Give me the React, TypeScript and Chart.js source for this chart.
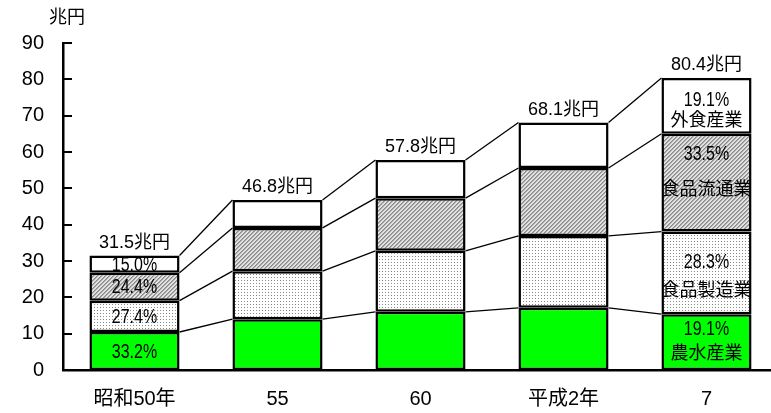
import React, { useEffect, useRef } from "react";
import { Chart, registerables } from "chart.js";

Chart.register(...registerables);

const categories = ["昭和50年", "55", "60", "平成2年", "7"];
const agri = [10.46, 14.0, 16.0, 17.1, 15.36];
const manufacturing = [8.63, 13.2, 16.8, 19.8, 22.75];
const distribution = [7.69, 11.9, 14.5, 18.7, 26.93];
const foodService = [4.72, 7.7, 10.5, 12.5, 15.36];
const totalLabels = ["31.5兆円", "46.8兆円", "57.8兆円", "68.1兆円", "80.4兆円"];
const firstBarPct = ["33.2%", "27.4%", "24.4%", "15.0%"];
const lastBarPct = ["19.1%", "28.3%", "33.5%", "19.1%"];
const sectorNames = ["農水産業", "食品製造業", "食品流通業", "外食産業"];
const yTicks = [0, 10, 20, 30, 40, 50, 60, 70, 80, 90];
const unitLabel = "兆円";

const LATIN = '"Liberation Sans", Arial, "Noto Sans CJK JP", sans-serif';
const CJK = '"Noto Sans CJK JP", sans-serif';

// vertical offsets (px, relative to segment centre) for labels in the last bar
const lastPctOffset = [-13, -10, -28, -5];
const lastNameOffset = [10, 16, 6, 13];

function makeDots(): CanvasPattern | string {
  const c = document.createElement("canvas");
  c.width = 3;
  c.height = 3;
  const x = c.getContext("2d")!;
  x.fillStyle = "#ffffff";
  x.fillRect(0, 0, 3, 3);
  x.fillStyle = "#8a8a8a";
  x.fillRect(1, 1, 1, 1);
  return x.createPattern(c, "repeat") || "#eee";
}

function makeHatch(): CanvasPattern | string {
  const n = 4;
  const c = document.createElement("canvas");
  c.width = n;
  c.height = n;
  const x = c.getContext("2d")!;
  x.fillStyle = "#e2e2e2";
  x.fillRect(0, 0, n, n);
  for (let i = 0; i < n; i++) {
    for (let j = 0; j < n; j++) {
      const k = (i + j) % n;
      if (k === 0) {
        x.fillStyle = "#8a8a8a";
        x.fillRect(i, j, 1, 1);
      } else if (k === 1) {
        x.fillStyle = "#a8a8a8";
        x.fillRect(i, j, 1, 1);
      }
    }
  }
  return x.createPattern(c, "repeat") || "#bbb";
}

function narrowText(ctx: CanvasRenderingContext2D, text: string, x: number, y: number) {
  ctx.save();
  ctx.translate(x, y);
  ctx.scale(0.8, 1);
  ctx.fillText(text, 0, 0);
  ctx.restore();
}

export default function App() {
  const ref = useRef<HTMLCanvasElement>(null);

  useEffect(() => {
    if (!ref.current) return;
    const series = [agri, manufacturing, distribution, foodService];

    const overlay = {
      id: "overlay",
      afterDatasetsDraw(chart: any) {
        const ctx = chart.ctx as CanvasRenderingContext2D;
        const ys = chart.scales.y;
        const area = chart.chartArea;
        ctx.save();
        // inner ticks on y axis
        ctx.strokeStyle = "#000";
        ctx.lineWidth = 2;
        yTicks.forEach((v) => {
          const py = Math.round(ys.getPixelForValue(v));
          ctx.beginPath();
          ctx.moveTo(area.left, py);
          ctx.lineTo(area.left + 9, py);
          ctx.stroke();
        });
        // connector lines
        ctx.lineWidth = 1.3;
        for (let i = 0; i < categories.length - 1; i++) {
          let c1 = 0;
          let c2 = 0;
          for (let s = 0; s < series.length; s++) {
            c1 += series[s][i];
            c2 += series[s][i + 1];
            const b1 = chart.getDatasetMeta(s).data[i];
            const b2 = chart.getDatasetMeta(s).data[i + 1];
            ctx.beginPath();
            ctx.moveTo(b1.x + b1.width / 2, ys.getPixelForValue(c1));
            ctx.lineTo(b2.x - b2.width / 2, ys.getPixelForValue(c2));
            ctx.stroke();
          }
        }
        ctx.fillStyle = "#000";
        ctx.textAlign = "center";
        ctx.textBaseline = "middle";
        // totals
        ctx.font = `18px ${LATIN}`;
        for (let i = 0; i < categories.length; i++) {
          const top = chart.getDatasetMeta(series.length - 1).data[i];
          ctx.fillText(totalLabels[i], top.x, top.y - 13);
        }
        // first bar percentages
        ctx.font = `20px ${LATIN}`;
        for (let s = 0; s < series.length; s++) {
          const b = chart.getDatasetMeta(s).data[0];
          narrowText(ctx, firstBarPct[s], b.x, (b.y + b.base) / 2 + 1);
        }
        // last bar percentages + names
        const last = categories.length - 1;
        for (let s = 0; s < series.length; s++) {
          const b = chart.getDatasetMeta(s).data[last];
          const mid = (b.y + b.base) / 2;
          ctx.font = `20px ${LATIN}`;
          narrowText(ctx, lastBarPct[s], b.x, mid + lastPctOffset[s]);
          ctx.font = `18px ${CJK}`;
          ctx.fillText(sectorNames[s], b.x, mid + lastNameOffset[s]);
        }
        // unit
        ctx.font = `18px ${CJK}`;
        ctx.fillText(unitLabel, 67, 16);
        ctx.restore();
      },
    };

    const common = {
      borderColor: "#000",
      borderWidth: 2.5,
      borderSkipped: false as const,
      barPercentage: 0.63,
      categoryPercentage: 1,
    };

    const chart = new Chart(ref.current, {
      type: "bar",
      data: {
        labels: categories,
        datasets: [
          { label: sectorNames[0], data: agri, backgroundColor: "#00ff00", ...common },
          { label: sectorNames[1], data: manufacturing, backgroundColor: makeDots() as any, ...common },
          { label: sectorNames[2], data: distribution, backgroundColor: makeHatch() as any, ...common },
          { label: sectorNames[3], data: foodService, backgroundColor: "#ffffff", ...common },
        ],
      },
      options: {
        animation: false,
        responsive: false,
        maintainAspectRatio: false,
        layout: { padding: { top: 43, right: 7, left: 0, bottom: 0 } },
        plugins: { legend: { display: false }, tooltip: { enabled: false } },
        scales: {
          x: {
            stacked: true,
            grid: { display: false, drawTicks: false },
            border: { display: true, color: "#000", width: 2.5 },
            ticks: { color: "#000", font: { size: 20, family: LATIN }, padding: 17, maxRotation: 0 },
            afterFit(scale: any) {
              scale.height = 43;
            },
          },
          y: {
            stacked: true,
            min: 0,
            max: 90,
            grid: { display: false, drawTicks: false },
            border: { display: true, color: "#000", width: 2.5 },
            ticks: { stepSize: 10, color: "#000", font: { size: 20, family: LATIN }, padding: 19 },
            afterFit(scale: any) {
              scale.width = 63;
            },
          },
        },
      },
      plugins: [overlay],
    });
    return () => chart.destroy();
  }, []);

  return (
    <div style={{ position: "fixed", left: 0, top: 0, width: 771, height: 413, overflow: "hidden", background: "#fff" }}>
      <canvas ref={ref} width={785} height={413} style={{ display: "block" }} />
    </div>
  );
}
